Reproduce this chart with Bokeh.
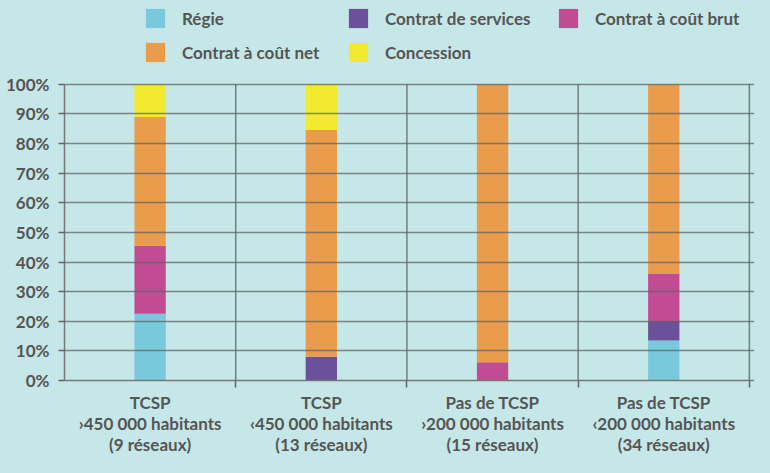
from bokeh.plotting import figure
from bokeh.models import Range1d, FixedTicker, ColumnDataSource, Legend, LegendItem
from bokeh.embed import file_html
from bokeh.resources import INLINE

# ---------------- data ----------------
categories = [
    "TCSP\n\u203a450 000 habitants\n(9 réseaux)",
    "TCSP\n\u2039450 000 habitants\n(13 réseaux)",
    "Pas de TCSP\n\u203a200 000 habitants\n(15 réseaux)",
    "Pas de TCSP\n\u2039200 000 habitants\n(34 réseaux)",
]
series_names = ["Régie", "Contrat de services", "Contrat à coût brut",
                "Contrat à coût net", "Concession"]
regie = [22.5, 0.0, 0.0, 13.5]
services = [0.0, 8.0, 0.0, 6.6]
brut = [23.0, 0.0, 6.2, 16.0]
net = [43.5, 76.6, 93.8, 63.9]
concession = [11.0, 15.4, 0.0, 0.0]
y_ticks = [0, 10, 20, 30, 40, 50, 60, 70, 80, 90, 100]
y_labels = ["0%", "10%", "20%", "30%", "40%", "50%", "60%", "70%", "80%", "90%", "100%"]

# ---------------- style ----------------
FONT = "Lato"
TXT = "#555555"
BG = "#c5e7e7"
GRID = "#5f6464"
colors = ["#78c9db", "#6a5199", "#c24c93", "#e99c4b", "#f2ea2e"]
keys = ["regie", "services", "brut", "net", "concession"]

n = len(categories)
xpos = [i + 0.5 for i in range(n)]
seps = [i + 1 for i in range(n)]
source = ColumnDataSource(dict(x=xpos, regie=regie, services=services, brut=brut,
                               net=net, concession=concession))

# frame spans the full height above the axis; the top strip holds the legend
p = figure(width=754, height=457, x_range=Range1d(0, 4.03), y_range=Range1d(0, 128.3),
           output_backend="svg", toolbar_location=None,
           min_border_left=64, min_border_right=0, min_border_top=0, min_border_bottom=76,
           background_fill_color=BG, border_fill_color=BG, outline_line_color=None)

# category separators (between 0 and 100 %)
p.segment(x0=seps, x1=seps, y0=[y_ticks[0]] * n, y1=[y_ticks[-1]] * n,
          line_color=GRID, line_width=1.5, line_alpha=0.8)

rends = p.vbar_stack(keys, x="x", width=0.183, fill_color=colors, line_color=None, source=source)

# x axis
p.xaxis.ticker = FixedTicker(ticks=xpos, minor_ticks=seps)
p.xaxis.major_label_overrides = {xv: c for xv, c in zip(xpos, categories)}
p.xaxis.major_tick_line_color = None
p.xaxis.minor_tick_line_color = GRID
p.xaxis.minor_tick_out = 7
p.xaxis.minor_tick_in = 0
p.xaxis.minor_tick_line_width = 1.5
p.xaxis.axis_line_color = "#777777"
p.xaxis.axis_line_width = 1.5
p.xaxis.major_label_standoff = 4
p.xaxis.major_label_text_font = FONT
p.xaxis.major_label_text_font_style = "bold"
p.xaxis.major_label_text_font_size = "17px"
p.xaxis.major_label_text_color = TXT
p.xaxis.major_label_text_line_height = 1.0

# y axis
p.yaxis.ticker = FixedTicker(ticks=y_ticks)
p.yaxis.bounds = (y_ticks[0], y_ticks[-1])
p.yaxis.major_label_overrides = {t: l for t, l in zip(y_ticks, y_labels)}
p.yaxis.major_tick_out = 6
p.yaxis.major_tick_in = 0
p.yaxis.major_tick_line_color = GRID
p.yaxis.major_tick_line_width = 1.5
p.yaxis.minor_tick_line_color = None
p.yaxis.axis_line_color = "#777777"
p.yaxis.axis_line_width = 1.5
p.yaxis.major_label_standoff = 9
p.yaxis.major_label_text_font = FONT
p.yaxis.major_label_text_font_style = "bold"
p.yaxis.major_label_text_font_size = "17px"
p.yaxis.major_label_text_color = TXT

# grids
p.xgrid.visible = False
p.ygrid.ticker = FixedTicker(ticks=y_ticks)
p.ygrid.grid_line_color = GRID
p.ygrid.grid_line_width = 1.5
p.ygrid.grid_line_alpha = 0.75
p.ygrid.level = "overlay"

# legend: three columns placed in the top strip
items = [LegendItem(label=nm, renderers=[r]) for nm, r in zip(series_names, rends)]
columns = [([items[0], items[3]], (79, 316)),
           ([items[1], items[4]], (282, 316)),
           ([items[2]], (492, 350))]
for its, loc in columns:
    leg = Legend(items=its, location=loc, orientation="vertical",
                 glyph_width=24, glyph_height=24, label_height=24, label_standoff=15,
                 spacing=10, padding=0, margin=0, border_line_color=None,
                 background_fill_alpha=0, label_text_font=FONT,
                 label_text_font_style="bold",
                 label_text_font_size="17px", label_text_color=TXT)
    p.add_layout(leg)

html = file_html(p, INLINE)
html = html.replace("<head>", "<head><style>html,body{background:#c5e7e7;}</style>", 1)
open("out.html", "w").write(html)
